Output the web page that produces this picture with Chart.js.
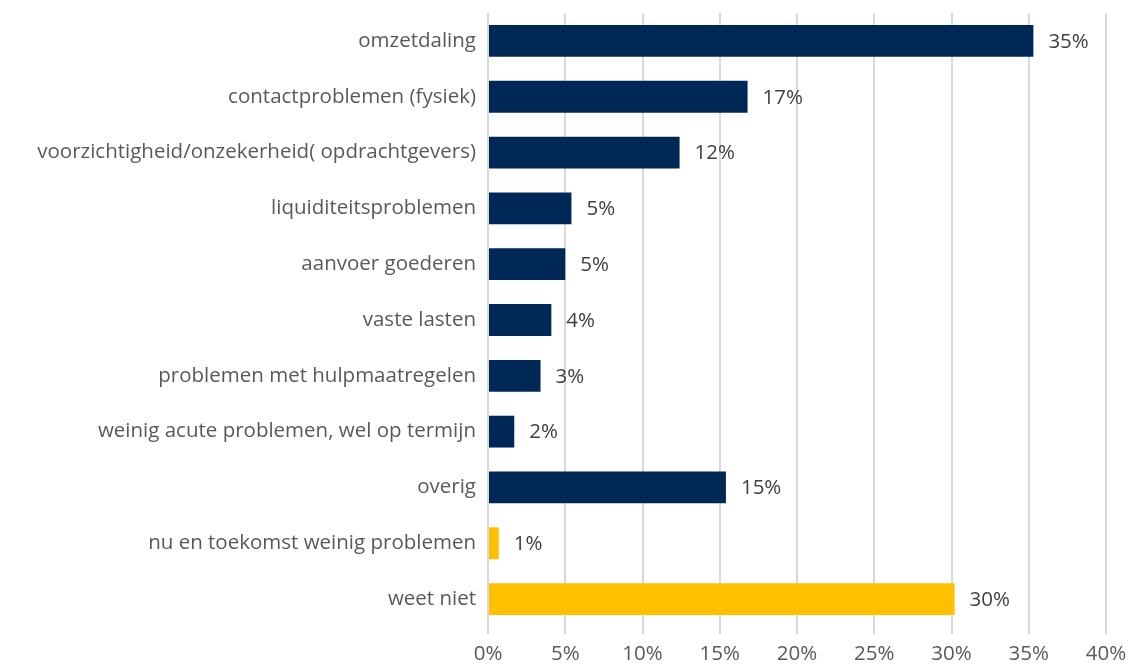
<!DOCTYPE html>
<html>
<head>
<meta charset="utf-8">
<script src="https://cdn.jsdelivr.net/npm/chart.js@4"></script>
<style>
  html, body { margin: 0; padding: 0; background: #fff; }
  #wrap { width: 1130px; height: 667px; }
</style>
</head>
<body>
<div id="wrap"><canvas id="myChart" width="1130" height="667"></canvas></div>
<script>
'use strict';

const categories = [
  'omzetdaling',
  'contactproblemen (fysiek)',
  'voorzichtigheid/onzekerheid( opdrachtgevers)',
  'liquiditeitsproblemen',
  'aanvoer goederen',
  'vaste lasten',
  'problemen met hulpmaatregelen',
  'weinig acute problemen, wel op termijn',
  'overig',
  'nu en toekomst weinig problemen',
  'weet niet'
];
const values = [35.3, 16.8, 12.4, 5.4, 5.0, 4.1, 3.4, 1.7, 15.4, 0.7, 30.2];
const valueLabels = ['35%', '17%', '12%', '5%', '5%', '4%', '3%', '2%', '15%', '1%', '30%'];
const xTicks = [0, 5, 10, 15, 20, 25, 30, 35, 40];

const navy = '#002856';
const yellow = '#FFC000';
const barColors = values.map((v, i) => i < 9 ? navy : yellow);

const fontFamily = '"Open Sans", sans-serif';
const fontSize = 20.5;

// draw the percentage next to each bar
const valueLabelPlugin = {
  id: 'valueLabels',
  afterDatasetsDraw(chart) {
    const c = chart.ctx;
    const meta = chart.getDatasetMeta(0);
    c.save();
    c.font = fontSize + 'px ' + fontFamily;
    c.fillStyle = '#404040';
    c.textAlign = 'left';
    c.textBaseline = 'middle';
    meta.data.forEach((bar, i) => {
      c.fillText(valueLabels[i], bar.x + 15, bar.y + 1);
    });
    c.restore();
  }
};

const ctx = document.getElementById('myChart');

let mainChart = new Chart(ctx, {
  type: 'bar',
  data: {
    labels: categories,
    datasets: [{
      data: values,
      backgroundColor: barColors,
      borderWidth: 0,
      categoryPercentage: 1,
      barPercentage: 0.57
    }]
  },
  options: {
    indexAxis: 'y',
    responsive: false,
    animation: false,
    layout: {
      padding: { top: 13, right: 24, bottom: 0, left: 0 }
    },
    plugins: {
      legend: { display: false },
      tooltip: { enabled: false }
    },
    scales: {
      x: {
        min: 0,
        max: 40,
        afterBuildTicks(axis) {
          axis.ticks = xTicks.map(v => ({ value: v }));
        },
        afterFit(axis) {
          axis.height = 40;
          axis.paddingLeft = 0;
          axis.paddingRight = 0;
        },
        border: { display: false },
        grid: {
          color: '#d9d9d9',
          lineWidth: 2,
          drawTicks: true,
          tickLength: 7
        },
        ticks: {
          padding: 8,
          color: '#595959',
          font: { family: fontFamily, size: fontSize },
          callback: v => v + '%'
        }
      },
      y: {
        afterFit(axis) {
          axis.width = 488;
          axis.paddingTop = 0;
          axis.paddingBottom = 0;
        },
        border: { display: false },
        grid: { display: false, drawTicks: false },
        ticks: {
          padding: 12,
          color: '#595959',
          font: { family: fontFamily, size: fontSize }
        }
      }
    }
  },
  plugins: [valueLabelPlugin]
});
</script>
</body>
</html>
